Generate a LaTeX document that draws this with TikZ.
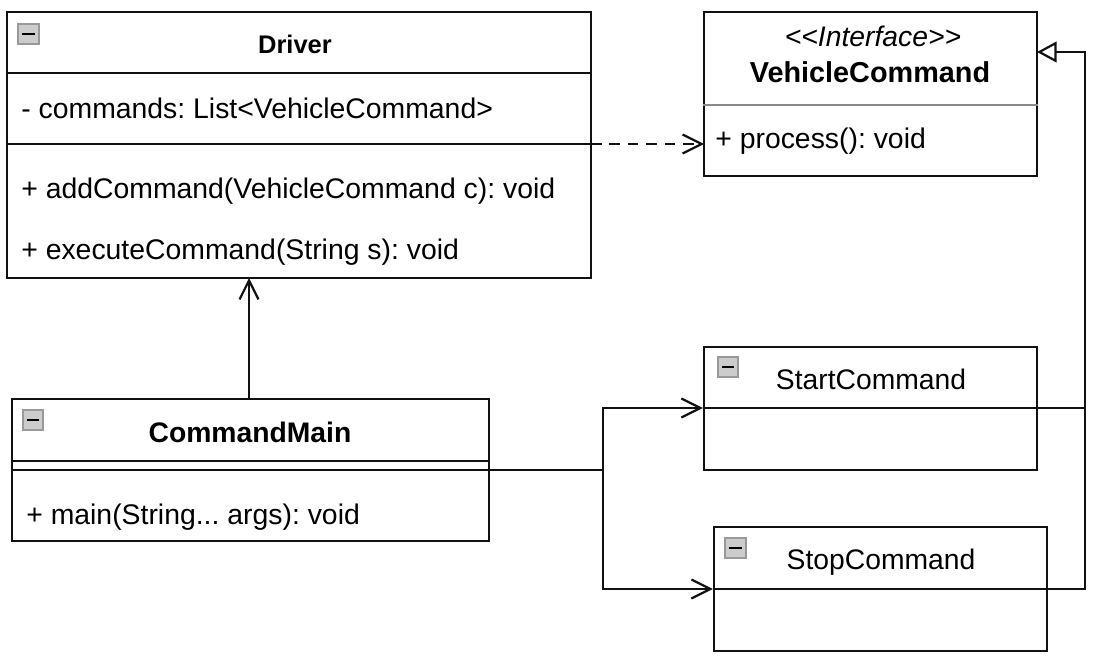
\documentclass[tikz,border=0pt]{standalone}
\usepackage{fontspec}
\setmainfont{Liberation Sans}
\usepackage{xcolor}
\usetikzlibrary{arrows.meta}
\definecolor{ink}{HTML}{111111}
\definecolor{iconfill}{HTML}{CCCCCC}
\definecolor{icondraw}{HTML}{999999}
\frenchspacing
\tikzset{
  box/.style={draw=ink, line width=1.35pt, fill=white, inner sep=0pt},
  divider/.style={draw=ink, line width=1.2pt},
  conn/.style={draw=ink, line width=1.35pt},
  openarrow/.style={conn, -{Straight Barb[length=3.8mm, width=3.8mm, line width=1.25pt]}},
  trianglearrow/.style={conn, -{Triangle[open, length=3.9mm, width=4.1mm, line width=1.25pt, fill=white]}},
  lbl/.style={text=black, font=\fontsize{16.1}{18}\selectfont, inner sep=0pt},
  member/.style={lbl, font=\fontsize{16.15}{18}\selectfont, anchor=base west},
  title/.style={lbl, font=\fontsize{16.1}{18}\selectfont\bfseries, anchor=base},
  icon/.style={draw=icondraw, line width=0.9pt, fill=iconfill, minimum size=0.41cm, inner sep=0pt, path picture={
    \draw[black, line width=1.1pt] ([xshift=0.08cm]path picture bounding box.west) -- ([xshift=-0.08cm]path picture bounding box.east);}}
}

\begin{document}
\begin{tikzpicture}[x=0.02cm, y=-0.02cm]
  \useasboundingbox (0,0) rectangle (1098,665);

  % class boxes
  \node[box, minimum width=584*0.02cm, minimum height=266*0.02cm] (driver) at (299,145) {};
  \node[box, minimum width=333*0.02cm, minimum height=164*0.02cm] (iface) at (870.5,94) {};
  \node[box, minimum width=333*0.02cm, minimum height=123*0.02cm] (start) at (870.5,408.5) {};
  \node[box, minimum width=333*0.02cm, minimum height=124*0.02cm] (stop) at (880.5,589) {};
  \node[box, minimum width=477*0.02cm, minimum height=142*0.02cm] (cmdmain) at (250.5,470) {};

  % dividers
  \draw[divider] (driver.west |- 0,73) -- (driver.east |- 0,73);
  \draw[divider] (driver.west |- 0,144) -- (driver.east |- 0,144);
  \draw[draw=ink!50, line width=1pt] (iface.west |- 0,105) -- (iface.east |- 0,105);
  \draw[divider] (start.west |- 0,408) -- (start.east |- 0,408);
  \draw[divider] (stop.west |- 0,589) -- (stop.east |- 0,589);
  \draw[divider] (cmdmain.west |- 0,461) -- (cmdmain.east |- 0,461);
  \draw[divider] (cmdmain.west |- 0,470) -- (cmdmain.east |- 0,470);

  % collapse icons
  \node[icon] (driverIcon) at (28.5,34) {};
  \node[icon] (startIcon) at (728,367) {};
  \node[icon] (stopIcon) at (735.5,548) {};
  \node[icon] (mainIcon) at (33,420) {};

  % texts
  \node[title, font=\fontsize{14.5}{18}\selectfont\bfseries] (driverName) at (295,54) {Driver};
  \node[member] (driverField) at (21,119) {- commands: List<VehicleCommand>};
  \node[member] (driverAdd) at (21,199) {+ addCommand(VehicleCommand c): void};
  \node[member] (driverExec) at (21,260) {+ executeCommand(String s): void};
  \node[lbl, font=\fontsize{16.1}{18}\selectfont\itshape, anchor=base] (ifaceStereo) at (873,47) {<{}<Interface>{}>};
  \node[title, font=\fontsize{16.4}{18}\selectfont\bfseries] (ifaceName) at (870,83) {VehicleCommand};
  \node[member] (ifaceProc) at (715,149) {+ process(): void};
  \node[lbl, anchor=base] (startName) at (871,389) {StartCommand};
  \node[lbl, anchor=base] (stopName) at (881,569) {StopCommand};
  \node[title] (mainName) at (250,442) {CommandMain};
  \node[member] (mainProc) at (26,524) {+ main(String... args): void};

  % junction points
  \coordinate (forkTop) at (603,408);
  \coordinate (forkMid) at (603,470);
  \coordinate (forkBot) at (603,589);
  \coordinate (riseTop) at (1085,52);
  \coordinate (riseStart) at (1085,408);
  \coordinate (riseStop) at (1085,589);
  \coordinate (mainUp) at (249,399);
  \coordinate (driverDown) at (249,278);
  \coordinate (depFrom) at (591,144);
  \coordinate (depTo) at (704,144);
  \coordinate (mainOut) at (489,470);
  \coordinate (ifaceIn) at (1037,52);

  % connectors
  \draw[openarrow] (mainUp) -- (driverDown);
  \draw[openarrow, dash pattern=on 6pt off 4.5pt] (depFrom) -- (depTo);
  \draw[conn] (mainOut) -- (forkMid);
  \draw[openarrow] (forkMid) -- (forkTop) -- (start.west |- forkTop);
  \draw[openarrow] (forkMid) -- (forkBot) -- (stop.west |- forkBot);
  \draw[conn] (start.east |- riseStart) -- (riseStart);
  \draw[trianglearrow] (stop.east |- riseStop) -- (riseStop) -- (riseTop) -- (ifaceIn);
\end{tikzpicture}
\end{document}
